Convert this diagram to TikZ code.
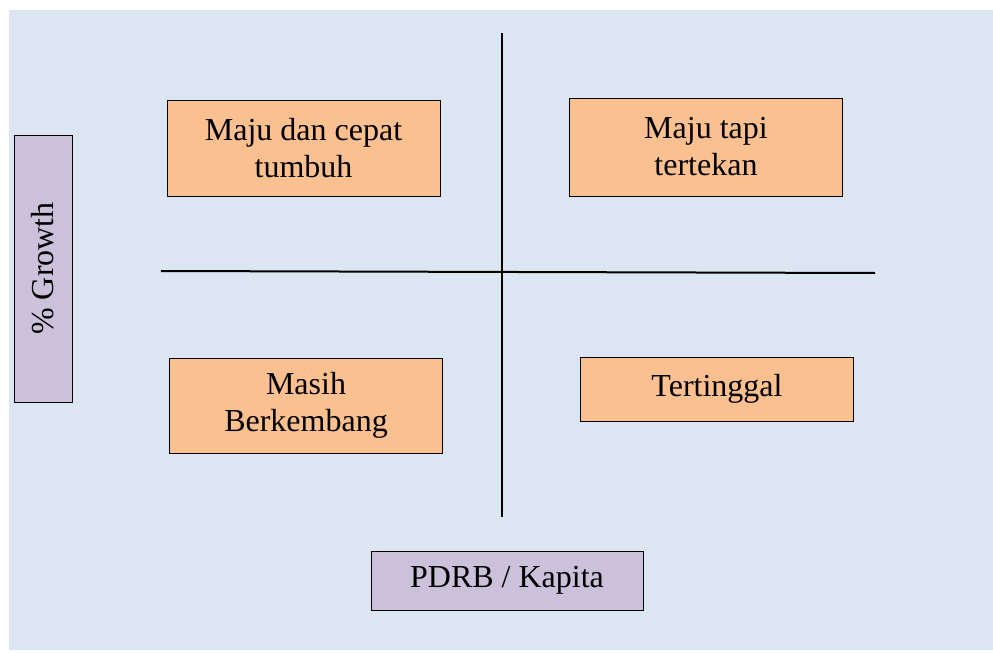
\documentclass[tikz,border=0pt]{standalone}
\usepackage{fontspec}
\setmainfont{Liberation Serif}
\usetikzlibrary{positioning}
\definecolor{bgblue}{HTML}{DCE6F2}
\definecolor{boxorange}{HTML}{FAC090}
\definecolor{boxlilac}{HTML}{CCC1DA}
\tikzset{
    x=0.5pt,y=-0.5pt,semithick,
    quad/.style ={rectangle, draw, fill=boxorange, align=center, inner sep=0pt,
                  minimum width=136.5pt, font=\fontsize{16}{18.5}\selectfont},
    axisbox/.style ={rectangle, draw, fill=boxlilac, align=center, inner sep=0pt,
                  font=\fontsize{16}{18.5}\selectfont},
    axisline/.style = {line width=1pt}
}
\begin{document}
\begin{tikzpicture}
  \useasboundingbox (0,0) rectangle (993,653);
  \fill[bgblue] (9,10) rectangle (993,650);

  % axes
  \coordinate (vtop) at (502,33);
  \coordinate (vbot) at (502,517);
  \coordinate (hleft) at (161,271);
  \coordinate (hright) at (875,273);
  \draw[axisline] (vtop) -- (vbot);
  \draw[axisline] (hleft) -- (hright);

  % quadrants
  \node[quad, minimum height=48pt] (majucepat) at (303.5,148) {Maju dan cepat\\tumbuh};
  \node[quad, minimum height=49pt] (majutekan) at (706,147) {Maju tapi\\tertekan};
  \node[quad, minimum height=47.5pt] (berkembang) at (306,405.5) {Masih\\Berkembang};
  \node[quad, minimum height=32pt] (tertinggal) at (717,389) {Tertinggal};

  % axis labels
  \node[axisbox, minimum width=136pt, minimum height=29.5pt] (pdrb) at (507,580.5) {PDRB / Kapita};
  \node[axisbox, rotate=90, minimum width=133.5pt, minimum height=29pt] (growth) at (43,268.5) {\% Growth};
\end{tikzpicture}
\end{document}
